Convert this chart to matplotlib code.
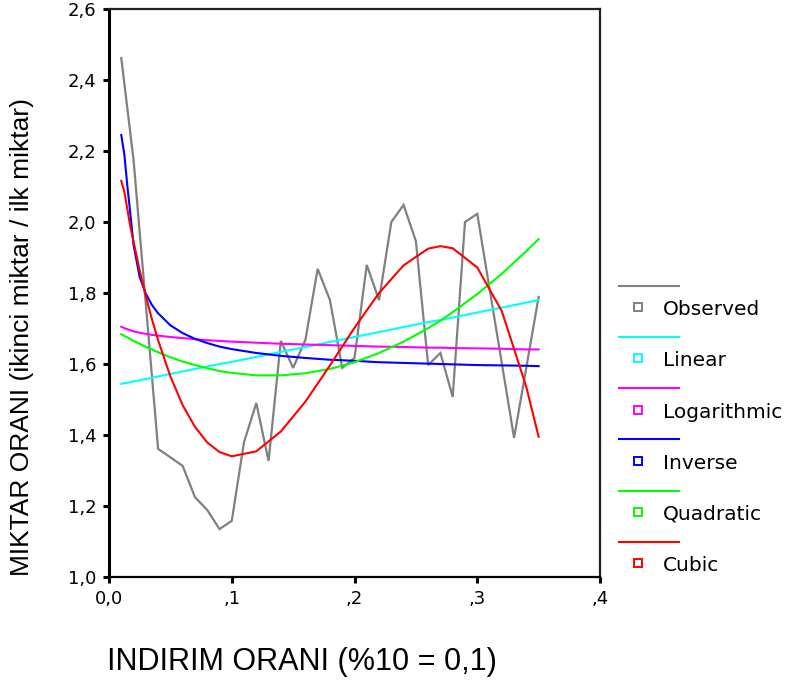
import matplotlib
matplotlib.use("Agg")
import matplotlib.pyplot as plt
from matplotlib.lines import Line2D

# ---------------- data ----------------
obs_x = [0.01, 0.02, 0.04, 0.06, 0.07, 0.08, 0.09, 0.10, 0.11, 0.12, 0.13, 0.14,
         0.15, 0.16, 0.17, 0.18, 0.19, 0.20, 0.21, 0.22, 0.23, 0.24, 0.25, 0.26,
         0.27, 0.28, 0.29, 0.30, 0.33, 0.35]
obs_y = [2.462, 2.175, 1.361, 1.313, 1.225, 1.189, 1.135, 1.158, 1.380, 1.490, 1.327, 1.665,
         1.589, 1.668, 1.868, 1.780, 1.589, 1.617, 1.879, 1.780, 2.000, 2.048, 1.946, 1.597,
         1.631, 1.507, 2.000, 2.023, 1.392, 1.789]

fit_x = [0.01, 0.0125, 0.015, 0.0175, 0.02, 0.025, 0.03, 0.035, 0.04, 0.05, 0.06, 0.07,
         0.08, 0.09, 0.10, 0.12, 0.14, 0.16, 0.18, 0.20, 0.22, 0.24, 0.26, 0.27, 0.28,
         0.30, 0.32, 0.34, 0.35]
linear_y = [1.544, 1.546, 1.547, 1.549, 1.551, 1.554, 1.558, 1.561, 1.565, 1.572, 1.579, 1.586,
            1.593, 1.600, 1.606, 1.620, 1.634, 1.648, 1.662, 1.676, 1.690, 1.704, 1.718, 1.724,
            1.731, 1.745, 1.759, 1.773, 1.780]
log_y = [1.705, 1.701, 1.698, 1.695, 1.692, 1.688, 1.685, 1.682, 1.680, 1.676, 1.673, 1.670,
         1.667, 1.665, 1.663, 1.660, 1.657, 1.655, 1.653, 1.651, 1.649, 1.648, 1.646, 1.646,
         1.645, 1.644, 1.643, 1.641, 1.641]
inverse_y = [2.245, 2.190, 2.100, 2.020, 1.935, 1.845, 1.798, 1.766, 1.743, 1.709, 1.687, 1.671,
             1.659, 1.649, 1.642, 1.631, 1.623, 1.617, 1.612, 1.609, 1.605, 1.603, 1.601, 1.600,
             1.599, 1.597, 1.596, 1.595, 1.594]
quadratic_y = [1.684, 1.679, 1.675, 1.670, 1.665, 1.657, 1.648, 1.641, 1.633, 1.619, 1.607, 1.597,
               1.588, 1.580, 1.575, 1.568, 1.568, 1.574, 1.586, 1.605, 1.631, 1.663, 1.701, 1.722,
               1.746, 1.797, 1.854, 1.918, 1.952]
cubic_y = [2.116, 2.085, 2.035, 1.985, 1.945, 1.863, 1.791, 1.726, 1.667, 1.565, 1.484, 1.423,
           1.379, 1.352, 1.340, 1.354, 1.410, 1.494, 1.596, 1.702, 1.800, 1.878, 1.925, 1.932,
           1.926, 1.872, 1.749, 1.535, 1.395]

series_names = ["Observed", "Linear", "Logarithmic", "Inverse", "Quadratic", "Cubic"]
series_colors = ["#808080", "#00FFFF", "#FF00FF", "#0000FF", "#00FF00", "#FF0000"]

x_ticks = [0.0, 0.1, 0.2, 0.3, 0.4]
x_tick_labels = ["0,0", ",1", ",2", ",3", ",4"]
y_ticks = [1.0, 1.2, 1.4, 1.6, 1.8, 2.0, 2.2, 2.4, 2.6]
y_tick_labels = ["1,0", "1,2", "1,4", "1,6", "1,8", "2,0", "2,2", "2,4", "2,6"]

x_label = "INDIRIM ORANI (%10 = 0,1)"
y_label = "MIKTAR ORANI (ikinci miktar / ilk miktar)"

# ---------------- figure ----------------
W, H = 788, 684
fig = plt.figure(figsize=(W / 100, H / 100), dpi=100)
L, R, T, B = 109, 600, 9, 577
ax = fig.add_axes([L / W, 1 - B / H, (R - L) / W, (B - T) / H])

fit_series = [linear_y, log_y, inverse_y, quadratic_y, cubic_y]
ax.plot(obs_x, obs_y, color=series_colors[0], lw=1.6, solid_joinstyle="miter")
for ys, c in zip(fit_series, series_colors[1:]):
    ax.plot(fit_x, ys, color=c, lw=1.5)

ax.set_xlim(0.0, 0.4)
ax.set_ylim(1.0, 2.6)
ax.set_xticks(x_ticks)
ax.set_xticklabels(x_tick_labels)
ax.set_yticks(y_ticks)
ax.set_yticklabels(y_tick_labels)
ax.tick_params(direction="out", length=4.2, width=2.2, color="black",
               labelsize=13, pad=5)
for lab in ax.get_xticklabels() + ax.get_yticklabels():
    lab.set_family("DejaVu Sans")

for side, lw in [("left", 2.2), ("bottom", 1.6), ("top", 1.6), ("right", 1.6)]:
    ax.spines[side].set_linewidth(lw)
    ax.spines[side].set_color("black" if side in ("left", "bottom") else "#222222")

ax.set_xlabel(x_label, fontsize=22, family="Liberation Sans", va="center")
ax.xaxis.set_label_coords((302 - L) / (R - L), (B - 662) / (B - T))
ax.set_ylabel(y_label, fontsize=19, family="Liberation Sans", va="center")
ax.yaxis.set_label_coords((22 - L) / (R - L), (B - 337) / (B - T))

# ---------------- legend (SPSS style: line row, then marker + label row) ----------------
def fx(px):
    return px / W

def fy(py):
    return 1 - py / H

y0 = 285.7
step = 51.2
for i, (name, col) in enumerate(zip(series_names, series_colors)):
    ly = y0 + i * step
    fig.add_artist(Line2D([fx(619), fx(679)], [fy(ly), fy(ly)], color=col, lw=1.5,
                          transform=fig.transFigure))
    my = ly + 21.5
    fig.add_artist(Line2D([fx(638)], [fy(my)], marker="s", markersize=5.5,
                          markerfacecolor="white", markeredgecolor=col, markeredgewidth=1.4,
                          linestyle="none", transform=fig.transFigure))
    fig.text(fx(663), fy(my + 2.5), name, fontsize=14.5, family="DejaVu Sans",
             va="center", ha="left", color="black")

fig.savefig("out.png", dpi=100)
